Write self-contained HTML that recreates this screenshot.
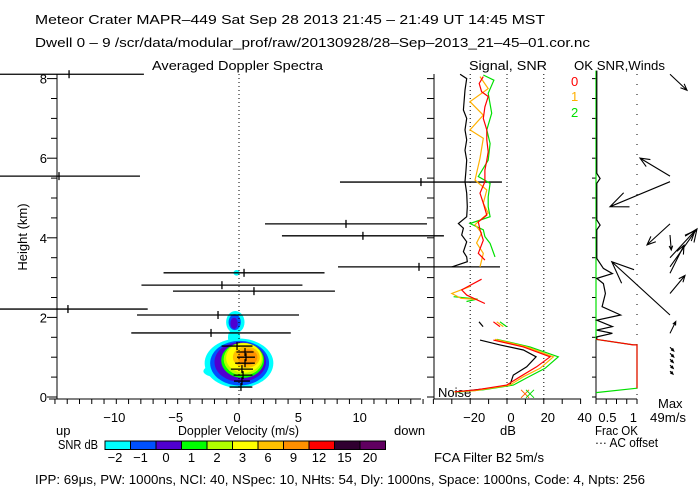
<!DOCTYPE html>
<html><head><meta charset="utf-8"><style>
html,body{margin:0;padding:0;background:#fff}
svg{display:block;font-family:"Liberation Sans",sans-serif;font-size:13px}
</style></head><body>
<svg id="c" width="700" height="500" viewBox="0 0 700 500">
<rect width="700" height="500" fill="#fff"/>
<text x="35" y="24" textLength="510" lengthAdjust="spacingAndGlyphs">Meteor Crater  MAPR–449  Sat Sep 28 2013 21:45 – 21:49 UT 14:45 MST</text>
<text x="35" y="47" textLength="555" lengthAdjust="spacingAndGlyphs">Dwell  0 –  9   /scr/data/modular_prof/raw/20130928/28–Sep–2013_21–45–01.cor.nc</text>
<text x="152" y="70" textLength="171" lengthAdjust="spacingAndGlyphs">Averaged Doppler Spectra</text>
<text x="469" y="70" textLength="78" lengthAdjust="spacingAndGlyphs">Signal, SNR</text>
<text x="574" y="70" textLength="91" lengthAdjust="spacingAndGlyphs">OK SNR,Winds</text>
<text x="27" y="237" text-anchor="middle" transform="rotate(-90 27 237)">Height (km)</text>
<text x="178" y="435" textLength="121" lengthAdjust="spacingAndGlyphs">Doppler Velocity (m/s)</text>
<text x="56" y="435">up</text>
<text x="394" y="435">down</text>
<text x="500" y="435">dB</text>
<text x="595" y="435" textLength="43" lengthAdjust="spacingAndGlyphs">Frac OK</text>
<text x="595" y="447" textLength="63" lengthAdjust="spacingAndGlyphs">··· AC offset</text>
<text x="658" y="408">Max</text>
<text x="650" y="422" textLength="36" lengthAdjust="spacingAndGlyphs">49m/s</text>
<text x="58" y="449" textLength="40" lengthAdjust="spacingAndGlyphs">SNR dB</text>
<text x="434" y="462" textLength="110" lengthAdjust="spacingAndGlyphs">FCA Filter B2  5m/s</text>
<text x="35" y="484" textLength="610" lengthAdjust="spacingAndGlyphs">IPP:  69μs,  PW: 1000ns,  NCI:  40,  NSpec: 10, NHts: 54,  Dly: 1000ns,  Space: 1000ns,  Code: 4,  Npts: 256</text>
<text x="438" y="397">Noise</text>
<text x="571" y="86" fill="#ff0000">0</text>
<text x="571" y="101" fill="#ffb000">1</text>
<text x="571" y="117" fill="#00e000">2</text>
<g id="g"></g>
</svg>
<script>
// ---- data ----
const colorLevels = ["-2","-1","0","1","2","3","6","9","12","15","20"];
const colorFills = ["#00ffff","#0050ff","#5000d0","#00ff00","#b0ff00","#ffff00","#ffc000","#ff9000","#ff0000","#300030","#600060"];
// spectra blob layers (level index, center vel, center h, radius vel, radius h)
const blobLevel = [0,0,0,1,2,3,4,5,6,7,0,1,2,0];
const blobV  = [0.0,-1.8,-0.4,0.05,0.1,0.3,0.35,0.4,0.6,0.7,-0.3,-0.35,-0.4,-0.2];
const blobH  = [0.85,0.65,1.5,0.85,0.88,0.92,0.95,0.98,1.0,1.0,1.88,1.88,1.85,3.12];
const blobRV = [2.8,1.1,0.5,2.4,2.1,1.75,1.6,1.45,1.1,0.8,0.75,0.5,0.3,0.25];
const blobRH = [0.62,0.15,0.2,0.56,0.5,0.44,0.41,0.37,0.27,0.2,0.28,0.2,0.14,0.07];
// velocity error bars
const barH = [8.11,5.55,5.40,4.35,4.05,3.27,3.12,2.81,2.66,2.21,2.06,1.61,1.28,1.13,1.0,0.85,0.70,0.55,0.40,0.25];
const barV = [-13.85,-14.67,14.83,8.72,10.1,14.67,0.41,-1.39,1.22,-13.94,-1.71,-2.28,-0.16,0.49,0.57,0.49,0.24,0.33,0.24,0.16];
const barW = [6.1,6.6,6.6,6.6,6.6,6.6,6.56,6.56,6.6,6.5,6.6,6.5,1.26,0.7,0.73,0.8,0.9,0.77,0.65,0.93];
// signal / SNR series (null = gap)
const sigBlackH = [8.11,8.0,7.71,7.21,7.0,6.71,6.46,6.2,5.95,5.7,5.41,5.12,4.78,4.53,4.36,4.24,4.07,3.9,3.65,3.52,3.4,3.27,null,1.89,1.77,null,1.43,1.31,1.18,1.01,0.76,0.55,0.3,0.22,0.13];
const sigBlackDb = [-25.5,-21.9,-22.8,-23.7,-21.9,-22.8,-21.9,-22.8,-21.9,-22.3,-22.8,-21.9,-21.6,-21.9,-26.4,-23.7,-24.6,-21.9,-23.7,-21.9,-21.6,-30,null,-15.2,-13,null,-14.7,-3.8,8.9,15.8,10.7,3.4,1.6,-9.2,-27.3];
const sigRedH = [8.05,7.88,7.67,7.55,7.29,7.0,6.71,6.46,6.16,5.95,5.7,5.41,5.12,4.87,4.57,4.4,4.2,3.94,3.61,3.44,null,2.96,2.69,2.56,2.35,null,1.89,1.77,null,1.43,1.26,1.01,0.76,0.51,0.3,0.18,0.13];
const sigRedDb = [-12.9,-15.1,-13.8,-10.2,-12,-12.9,-11,-11,-10.2,-11,-12,-12,-14.7,-12.9,-11,-15.6,-14.7,-12.9,-15.6,-12,null,-13.8,-24.6,-21.9,-12,null,-7.4,-3.8,null,-7.4,8.9,23.4,16.1,7.1,-0.2,-16.5,-28.3];
const sigOrangeH = [8.05,7.75,7.42,7.08,6.71,6.5,6.0,5.45,5.2,4.87,4.62,4.33,4.12,3.87,3.61,3.27,null,2.78,2.6,2.48,2.45,null,1.89,1.77,null,1.45,1.26,1.01,0.72,0.51,0.3,0.16,0.13];
const sigOrangeDb = [-14.7,-10.2,-20.1,-12.9,-20.1,-12.9,-14.7,-17.4,-11,-12.9,-10.2,-17.4,-13.8,-16.5,-12.9,-14.7,null,-20,-30,-25,-16,null,-5.6,-2,null,-6.5,10.7,25.2,18,8.9,1.6,-17.4,-28.8];
const sigGreenH = [8.09,7.96,7.63,7.13,6.71,6.37,5.95,5.54,5.37,5.03,4.78,4.53,4.36,4.2,4.03,3.86,3.52,null,2.52,2.46,2.4,null,1.89,1.77,null,1.45,1.26,1.01,0.72,0.48,0.3,0.18,0.12];
const sigGreenDb = [-12.9,-7.1,-10.2,-8.3,-11,-9.2,-10.2,-15.6,-9.2,-10.2,-10.2,-9.2,-20.1,-12.9,-12,-9.2,-6.5,null,-29,-16,-22,null,-3.8,-0.2,null,-5.6,12.5,27.9,20.7,10.7,3.4,-12.9,-27.3];
const crossDb = [9.8,12.5];
const crossH = [0.08,0.08];
// winds panel
const fracH = [8.2,1.45,1.31,1.31,0.22,0.11];
const fracG = [0,0,0.91,1,1,0];
const okH = [8.2,5.62,5.49,5.37,4.45,4.32,4.2,3.48,3.23,3.1,2.98,2.85,2.6,2.27,2.06,1.93,1.77,1.68,1.6,1.51,1.45];
const okF = [0.02,0.02,0.1,0.02,0.02,0.1,0.02,0.02,0.18,0.4,0.02,0.18,0.23,0.15,0.6,0.02,0.4,0.02,0.4,0.02,0.02];
const windH = [8.11,5.55,5.41,4.35,4.07,3.11,3.27,3.5,2.06,2.6,1.6,1.25,1.1,0.95,0.8,0.65];
const windU = [6.8,-12,-24,-9.2,0.5,5.6,10.8,10,-23.3,6,2.3,1.5,1.5,1.3,1.3,1.2];
const windV = [-6.4,7.2,-10,-8.4,-6,11.2,15.2,10.8,21.3,7.2,4.7,-1.5,-1.5,-1.3,-1.3,-1.2];
const heightTicks = [0,2,4,6,8];
const velTicks = [-10,-5,0,5,10];
const dbTicks = [-20,0,20,40];
const fracTicks = [0.5,1];

// ---- scales ----
const yH = h => 397 - 39.8*h;
const xV = v => 239 + 12.27*v;
const xD = d => 507 + 1.84*d;
const xF = f => 596 + 41*f;
const g = document.getElementById('g');
const NS = 'http://www.w3.org/2000/svg';
function mk(tag, attrs, parent){const e=document.createElementNS(NS,tag);for(const k in attrs)e.setAttribute(k,attrs[k]);(parent||g).appendChild(e);return e;}
function ln(x1,y1,x2,y2,st,w){return mk('line',{x1,y1,x2,y2,stroke:st||'#000','stroke-width':w||1});}

// blob
for(let i=0;i<blobV.length;i++){
  const e=mk('ellipse',{cx:xV(blobV[i]),cy:yH(blobH[i]),rx:blobRV[i]*12.27,ry:blobRH[i]*39.8,fill:colorFills[blobLevel[i]]});
  
  
}
// axes main
ln(57,74,57,399);ln(49,399,421,399);ln(434,44+30,434,399);
for(let h=0;h<=8.01;h+=0.5){const y=yH(h);ln(h%2===0?47:51,y,57,y);ln(427,y,434,y);ln(592,y,596,y);}
for(let v=-15;v<=15;v++){ln(xV(v),399,xV(v),404);}
heightTicks.forEach(h=>{const t=mk('text',{x:47,y:yH(h)+5,'text-anchor':'end'});t.textContent=h;
  
  });
velTicks.forEach(v=>{const t=mk('text',{x:xV(v)-2,y:422,'text-anchor':'middle'});t.textContent=v===0?'0':(v<0?'−'+(-v):v);
  
  });
mk('line',{x1:xV(0),y1:74,x2:xV(0),y2:399,stroke:'#000','stroke-dasharray':'1 3'});
// error bars
for(let i=0;i<barH.length;i++){
  const y=yH(barH[i]);
  const l=ln(xV(barV[i]-barW[i]),y,xV(barV[i]+barW[i]),y,'#000',1.3);
  
  
  ln(xV(barV[i]),y-4,xV(barV[i]),y+4,'#000',1.3);
}
// signal panel axes
ln(434,399,581,399);
for(let d=-40;d<=40;d+=10){ln(xD(d),399,xD(d),404);}
[-20,0,20].forEach(d=>mk('line',{x1:xD(d),y1:74,x2:xD(d),y2:399,stroke:'#000','stroke-dasharray':'1 3'}));
dbTicks.forEach(d=>{const t=mk('text',{x:xD(d)+4,y:422,'text-anchor':'middle'});t.textContent=d<0?'−'+(-d):d;
  
  });
function series(hs,xs,scale,color,name){
  let d='',pen=false;
  for(let i=0;i<hs.length;i++){
    if(hs[i]===null){pen=false;continue;}
    d+=(pen?'L':'M')+scale(xs[i]).toFixed(1)+' '+yH(hs[i]).toFixed(1)+' ';pen=true;
  }
  const p=mk('path',{d,fill:'none',stroke:color,'stroke-width':1.2});
  
  
}
series(sigBlackH,sigBlackDb,xD,'#000','noise-line');
series(sigGreenH,sigGreenDb,xD,'#00e000','snr-line-2');
series(sigOrangeH,sigOrangeDb,xD,'#ffb000','snr-line-1');
series(sigRedH,sigRedDb,xD,'#ff0000','snr-line-0');
crossDb.forEach((d,i)=>{const x=xD(d),y=yH(crossH[i]),c=i?'#00e000':'#ff6000';ln(x-4,y-4,x+4,y+4,c);ln(x-4,y+4,x+4,y-4,c);});
// winds panel
ln(596,74,596,399);ln(596,399,637,399);
for(let f=0;f<=1.001;f+=0.25){ln(xF(f),399,xF(f),404);}
mk('line',{x1:xF(1),y1:74,x2:xF(1),y2:399,stroke:'#000','stroke-dasharray':'1 9'});
fracTicks.forEach(f=>{const t=mk('text',{x:xF(f),y:422,'text-anchor':'end'});t.textContent=f;
  
  });
series(fracH,fracG,xF,'#00e000','frac-ok-line');
series(fracH.slice(1,5),fracG.slice(1,5),xF,'#ff0000','frac-ok-line-red');
series(okH,okF,xF,'#000','snr-ok-line');
for(let i=0;i<windH.length;i++){
  const x0=670,y0=yH(windH[i]),dx=windU[i]*2.5,dy=-windV[i]*2.5;
  const x1=x0+dx,y1=y0+dy,L=Math.hypot(dx,dy),a=Math.atan2(dy,dx),hl=Math.max(3,0.3*L);
  const p=mk('path',{d:`M${x0} ${y0}L${x1} ${y1}M${x1-hl*Math.cos(a-0.4)} ${y1-hl*Math.sin(a-0.4)}L${x1} ${y1}L${x1-hl*Math.cos(a+0.4)} ${y1-hl*Math.sin(a+0.4)}`,fill:'none',stroke:'#000','stroke-width':1.1});
  
  
}
// colorbar
colorFills.forEach((c,i)=>{
  const r=mk('rect',{x:105+i*25.5,y:441,width:25.5,height:8.5,fill:c,stroke:'#000','stroke-width':1});
  
  
  const t=mk('text',{x:105+i*25.5+10,y:462,'text-anchor':'middle'});t.textContent=colorLevels[i].replace('-','−');
  
  
});
</script>
</body></html>
